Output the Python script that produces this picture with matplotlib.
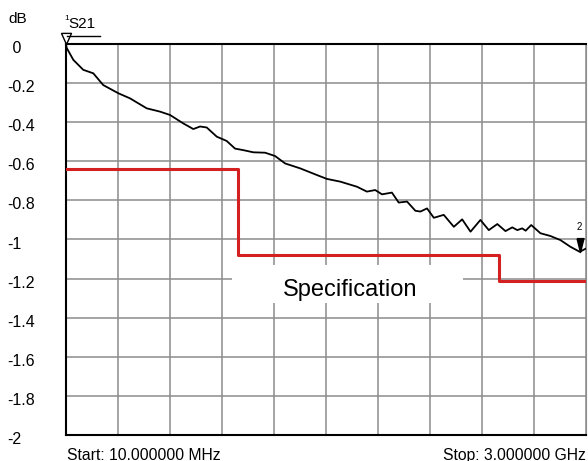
import numpy as np
import matplotlib.pyplot as plt
import matplotlib.transforms as mtransforms
from matplotlib.lines import Line2D
from matplotlib.patches import Rectangle

plt.rcParams['font.family'] = ['Liberation Sans', 'DejaVu Sans']

# S21 trace (MHz, dB)
freq = [10, 14, 52, 109, 167, 224, 311, 378, 474, 551, 608, 684, 742, 781, 819,
        877, 934, 982, 1030, 1087, 1155, 1212, 1270, 1356, 1452, 1510, 1587,
        1683, 1740, 1788, 1827, 1884, 1923, 1971, 2019, 2048, 2086, 2125, 2182,
        2240, 2288, 2336, 2393, 2441, 2490, 2537, 2576, 2605, 2633, 2653, 2685,
        2738, 2795, 2853, 2910, 2964, 3000]
s21 = [0.0, -0.02, -0.081, -0.132, -0.150, -0.210, -0.252, -0.278, -0.329, -0.346,
       -0.363, -0.406, -0.435, -0.422, -0.427, -0.474, -0.496, -0.535, -0.543,
       -0.554, -0.556, -0.573, -0.611, -0.636, -0.670, -0.690, -0.704, -0.730,
       -0.755, -0.747, -0.769, -0.760, -0.811, -0.806, -0.853, -0.857, -0.841,
       -0.889, -0.874, -0.935, -0.897, -0.960, -0.900, -0.952, -0.921, -0.957,
       -0.938, -0.952, -0.943, -0.955, -0.926, -0.968, -0.982, -1.003, -1.037,
       -1.063, -1.046]

# specification limit line
spec_freq = [10, 1000, 1000, 2500, 2500, 3000]
spec_db = [-0.64, -0.64, -1.08, -1.08, -1.21, -1.21]

yticks = [0, -0.2, -0.4, -0.6, -0.8, -1, -1.2, -1.4, -1.6, -1.8, -2]
ylabels = [' 0', '-0.2', '-0.4', '-0.6', '-0.8', '-1', '-1.2', '-1.4', '-1.6', '-1.8', '-2']

marker1 = (10, 0.0)
marker2 = (2964, -1.063)

fig = plt.figure(figsize=(5.88, 4.61), dpi=100)
ax = fig.add_axes([66/588, 1-435/461, 520/588, 391/461])

ax.set_xlim(10, 3000)
ax.set_ylim(-2, 0)
ax.set_xticks(np.linspace(10, 3000, 11))
ax.set_xticklabels([])
ax.set_yticks(yticks)
ax.set_yticklabels(ylabels, fontsize=11.5)
ax.tick_params(length=0)
ax.tick_params(axis='y', pad=42)
shift = mtransforms.ScaledTranslation(0, -3/100, fig.dpi_scale_trans)
for lab in ax.get_yticklabels():
    lab.set_horizontalalignment('left')
    lab.set_transform(lab.get_transform() + shift)
ax.grid(True, color='#8c8c8c', lw=1.1, zorder=1)
ax.set_axisbelow(True)
for s in ['left', 'top', 'bottom']:
    ax.spines[s].set_linewidth(1.5)
ax.spines['right'].set_color('#8c8c8c')

# white patch behind the label
ax.add_patch(Rectangle((0.319, 0.338), 0.444, 0.097, transform=ax.transAxes,
                       facecolor='white', edgecolor='none', zorder=1.5))

ax.plot(spec_freq, spec_db, color='#d42020', lw=2.2, zorder=3)
ax.plot(freq, s21, color='black', lw=1.3, zorder=4)

ax.text(0.547, 0.355, 'Specification', transform=ax.transAxes, fontsize=17,
        ha='center', va='baseline', zorder=5)

tri = [(-0.45, 1), (0.45, 1), (0, 0), (-0.45, 1)]
ax.plot(*marker1, marker=tri, ms=16, mfc='white', mec='black', mew=1.0,
        clip_on=False, zorder=6)
tri2 = [(-0.25, 1), (0.25, 1), (0, 0), (-0.25, 1)]
ax.plot(*marker2, marker=tri2, ms=20, mfc='black', mec='black',
        clip_on=False, zorder=6)
ax.annotate('2', marker2, xytext=(0, 14), textcoords='offset points',
            fontsize=7, ha='center', va='bottom')

fig.text(8/588, 1-19/461, 'dB', fontsize=11, va='center')
fig.text(68/588, 1-24/461, 'S21', fontsize=11, va='center')
fig.text(64/588, 1-19/461, '1', fontsize=6, va='center')
fig.add_artist(Line2D([67/588, 100/588], [1-36.5/461, 1-36.5/461], color='black', lw=1.0))
fig.text(67/588, 1-455/461, 'Start: 10.000000 MHz', fontsize=11.3, va='center')
fig.text(586/588, 1-455/461, 'Stop: 3.000000 GHz', fontsize=11.3, va='center', ha='right')

fig.savefig('out.png', dpi=100)
